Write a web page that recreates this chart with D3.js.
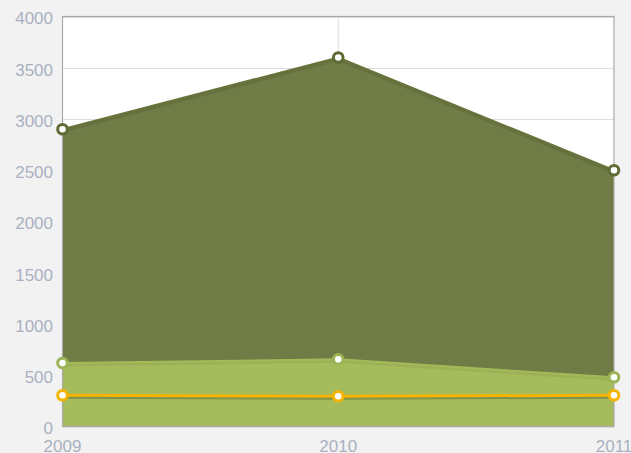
<html lang="en"><head>
<meta http-equiv="Content-Type" content="text/html; charset=UTF-8">
<title>Area chart</title>
<script type="text/javascript" src="https://cdn.jsdelivr.net/npm/d3@7"></script>
<style type="text/css">
body { margin: 0; background: #f2f2f2; }
svg { display: block; font-family: "Liberation Sans", Arial, sans-serif; }
</style>
</head>
<body>
<div id="chart"></div>
<script type="text/javascript">

// data
var years = ["2009", "2010", "2011"];
var seriesTop = [2900, 3600, 2500];
var seriesMid = [620, 655, 480];
var seriesLow = [305, 295, 305];
var yTicks = [0, 500, 1000, 1500, 2000, 2500, 3000, 3500, 4000];

var width = 631;
var height = 453;
var plotLeft = 62.5, plotRight = 614, plotTop = 16.5, plotBottom = 426.5;

var svg = d3.select("#chart").append("svg")
        .attr("width", width)
        .attr("height", height);

var x = d3.scalePoint().domain(years).range([plotLeft, plotRight]);
var y = d3.scaleLinear().domain([0, 4000]).range([plotBottom, plotTop]);

// plot background
svg.append("rect")
        .attr("x", plotLeft).attr("y", plotTop)
        .attr("width", plotRight - plotLeft).attr("height", plotBottom - plotTop)
        .attr("fill", "white");

// grid
svg.selectAll(".hgrid").data(yTicks).enter().append("line")
        .attr("class", "hgrid")
        .attr("x1", plotLeft).attr("x2", plotRight)
        .attr("y1", function (d) { return Math.round(y(d)) + 0.5; })
        .attr("y2", function (d) { return Math.round(y(d)) + 0.5; })
        .attr("stroke", "#dddddd");

svg.append("line")
        .attr("x1", x("2010")).attr("x2", x("2010"))
        .attr("y1", plotTop).attr("y2", plotBottom)
        .attr("stroke", "#dddddd");

function rows(vals) {
  return years.map(function (d, i) { return {year: d, value: vals[i]}; });
}

var area = d3.area()
        .x(function (d) { return x(d.year); })
        .y0(y(0))
        .y1(function (d) { return y(d.value); });

var line = d3.line()
        .x(function (d) { return x(d.year); })
        .y(function (d) { return y(d.value); });

var series = [
  {data: rows(seriesTop), fill: "#707b46", stroke: "#66733a", point: "#5f6b34", lw: 2, area: true, shadow: 0.08},
  {data: rows(seriesMid), fill: "#a5bb5c", stroke: "#a3ba58", point: "#9bb556", lw: 2, area: true, shadow: 0.05},
  {data: rows(seriesLow), fill: null, stroke: "#f4b400", point: "#f4b400", lw: 3, area: false, shadow: 0.22}
];

series.forEach(function (s) {
  if (s.area) {
    svg.append("path")
            .datum(s.data)
            .attr("d", area)
            .attr("fill", s.fill);
  }
  // shadow
  svg.append("path")
          .datum(s.data)
          .attr("d", line)
          .attr("transform", "translate(0,2)")
          .attr("fill", "none")
          .attr("stroke", "black")
          .attr("stroke-opacity", s.shadow)
          .attr("stroke-width", 3);
  svg.append("path")
          .datum(s.data)
          .attr("d", line)
          .attr("fill", "none")
          .attr("stroke", s.stroke)
          .attr("stroke-width", s.lw);
});

// plot border
svg.append("rect")
        .attr("x", plotLeft).attr("y", plotTop)
        .attr("width", plotRight - plotLeft).attr("height", plotBottom - plotTop)
        .attr("fill", "none")
        .attr("stroke", "#aaaaaa")
        .attr("stroke-width", 1.2);

series.forEach(function (s) {
  svg.selectAll(null).data(s.data).enter().append("circle")
          .attr("cx", function (d) { return x(d.year); })
          .attr("cy", function (d) { return y(d.value); })
          .attr("r", 4.8)
          .attr("fill", "white")
          .attr("stroke", s.point)
          .attr("stroke-width", 3);
});

// y labels
svg.selectAll(".ylab").data(yTicks).enter().append("text")
        .attr("class", "ylab")
        .attr("x", 53)
        .attr("y", function (d) { return y(d) + 2; })
        .attr("dy", "0.35em")
        .attr("text-anchor", "end")
        .attr("fill", "#a9b1c0")
        .attr("font-size", 17)
        .text(function (d) { return d; });

// x labels
svg.selectAll(".xlab").data(years).enter().append("text")
        .attr("class", "xlab")
        .attr("x", function (d) { return x(d); })
        .attr("y", 446)
        .attr("dy", "0.35em")
        .attr("text-anchor", "middle")
        .attr("fill", "#a9b1c0")
        .attr("font-size", 17)
        .text(function (d) { return d; });

</script>
</body></html>
